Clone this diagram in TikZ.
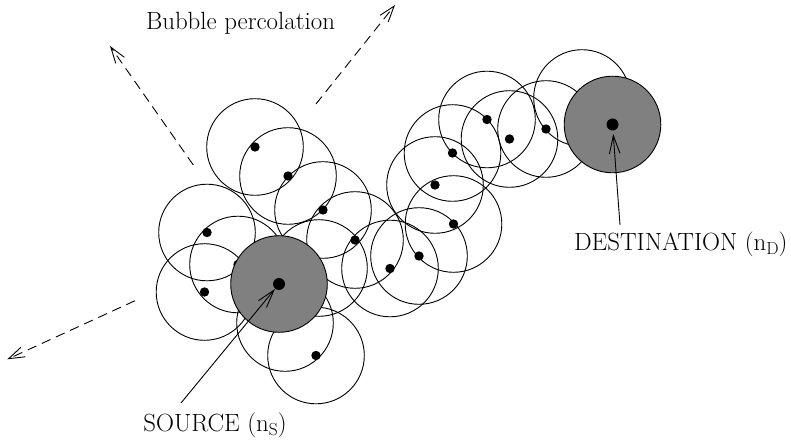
\documentclass[tikz,border=0pt]{standalone}
\usetikzlibrary{arrows.meta}
\definecolor{discgray}{RGB}{128,128,128}
\tikzset{
  rangecircle/.style={circle, draw, line width=0.9pt, minimum size=96.6pt, inner sep=0pt, outer sep=0pt},
  nodedot/.style={circle, fill=black, minimum size=9.4pt, inner sep=0pt, outer sep=0pt},
  bigdot/.style={circle, fill=black, minimum size=12pt, inner sep=0pt, outer sep=0pt},
  endpoint/.style={circle, draw, line width=0.9pt, fill=discgray, minimum size=96.6pt, inner sep=0pt, outer sep=0pt},
  pointer/.style={line width=0.9pt, -{Straight Barb[length=18pt,width=10.5pt,line width=0.9pt]}},
  spread/.style={line width=0.9pt, dash pattern=on 9.5pt off 6pt, -{Straight Barb[length=16pt,width=10.5pt,line width=0.9pt]}},
  lbl/.style={font=\fontsize{24.9}{29}\selectfont, inner sep=0pt, anchor=base}
}
\newcommand{\subtxt}[1]{\raisebox{-3.7pt}{\fontsize{17.4}{18}\selectfont #1}}
\begin{document}
\begin{tikzpicture}[x=1pt,y=-1pt]
\useasboundingbox (0,0) rectangle (791,443);
% range circles
\foreach \n/\x/\y in {A/255/147, B/288/176, C/323/210, D/355/240, E/207/232.5,
  F/238/264.5, G/204.5/292, H/319/268, K/285/323, L/316/355.5, M/390/268.5,
  N/419/256, O/453.5/224, P/435/185, Q/452.5/153, R/487/119.5, T/509.5/139,
  U/546/129, V/582/98}
  \node[rangecircle] (c\n) at (\x,\y) {};
% nodes
\foreach \n in {A,B,C,D,E,F,G,H,K,L,M,N,O,P,Q,R,T,U,V}
  \node[nodedot] (d\n) at (c\n.center) {};
% source and destination
\node[endpoint] (src) at (279,284) {};
\node[bigdot] (srcdot) at (src.center) {};
\node[endpoint] (dst) at (612.5,124.5) {};
\node[bigdot] (dstdot) at (dst.center) {};
% labels
\node[lbl] (bubble) at (240.5,29.8) {Bubble percolation};
\node[lbl] (srclbl) at (215,431.5) {SOURCE (n\subtxt{S})};
\node[lbl] (dstlbl) at (680.8,250.5) {DESTINATION (n\subtxt{D})};
% pointers
\coordinate (srcTail) at (181,403);
\coordinate (dstTail) at (620,225);
\draw[pointer, shorten >=6.4pt] (srcTail) -- (srcdot.center);
\draw[pointer, shorten >=9.5pt] (dstTail) -- (dstdot.center);
% spreading arrows
\coordinate (ulStart) at (193.3,165);
\coordinate (ulTip) at (110,46);
\coordinate (urStart) at (316,104);
\coordinate (urTip) at (395,5);
\coordinate (llStart) at (135,300.7);
\coordinate (llTip) at (7.3,359.3);
\draw[spread] (ulStart) -- (ulTip);
\draw[spread] (urStart) -- (urTip);
\draw[spread] (llStart) -- (llTip);
\end{tikzpicture}
\end{document}
